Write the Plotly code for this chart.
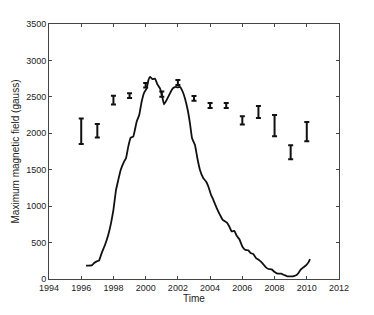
import plotly.graph_objects as go

# Error-bar series (yearly maximum magnetic field)
bar_years = [1996, 1997, 1998, 1999, 2000, 2001, 2002, 2003, 2004, 2005, 2006, 2007, 2008, 2009, 2010]
bar_values = [2028, 2035, 2456, 2516, 2660, 2537, 2696, 2479, 2381, 2381, 2176, 2292, 2105, 1740, 2023]
bar_errors = [174, 94, 60, 32, 30, 35, 34, 32, 34, 34, 57, 82, 146, 96, 133]

# Smoothed curve
curve_t = [1996.3, 1996.65, 1996.8, 1996.96, 1997.1, 1997.27, 1997.48, 1997.68, 1997.85, 1998.0,
           1998.16, 1998.3, 1998.45, 1998.66, 1998.78, 1998.92, 1999.07, 1999.23, 1999.44, 1999.6,
           1999.75, 1999.9, 2000.06, 2000.17, 2000.27, 2000.43, 2000.58, 2000.72, 2000.89, 2001.03,
           2001.14, 2001.3, 2001.51, 2001.68, 2001.86, 2001.99, 2002.13, 2002.3, 2002.44, 2002.61,
           2002.75, 2002.88, 2003.06, 2003.21, 2003.37, 2003.58, 2003.75, 2003.89, 2004.06, 2004.2,
           2004.41, 2004.61, 2004.78, 2005.03, 2005.19, 2005.34, 2005.5, 2005.65, 2005.81, 2006.0,
           2006.17, 2006.37, 2006.52, 2006.68, 2006.85, 2007.06, 2007.24, 2007.45, 2007.62, 2007.82,
           2008.03, 2008.19, 2008.4, 2008.59, 2008.79, 2009.0, 2009.2, 2009.37, 2009.48, 2009.62,
           2009.79, 2009.95, 2010.1, 2010.2]
curve_v = [183, 187, 219, 242, 251, 356, 470, 607, 767, 949,
           1223, 1360, 1497, 1611, 1657, 1817, 1940, 1953, 2159, 2250,
           2433, 2556, 2615, 2729, 2775, 2743, 2752, 2675, 2615, 2501,
           2396, 2455, 2547, 2615, 2638, 2629, 2638, 2570, 2478, 2319,
           2136, 1931, 1839, 1657, 1497, 1383, 1337, 1269, 1155, 1086,
           972, 881, 812, 776, 721, 653, 662, 593, 548, 447,
           402, 393, 356, 342, 288, 256, 219, 164, 137, 132,
           91, 73, 73, 55, 37, 37, 41, 55, 82, 128,
           160, 187, 228, 274]

x_ticks = [1994, 1996, 1998, 2000, 2002, 2004, 2006, 2008, 2010, 2012]
y_ticks = [0, 500, 1000, 1500, 2000, 2500, 3000, 3500]

FONT = "Liberation Sans, Arial, sans-serif"

fig = go.Figure()
fig.add_trace(go.Scatter(
    x=bar_years, y=bar_values, mode="markers",
    marker=dict(size=0.1, color="black", opacity=0),
    error_y=dict(type="data", array=bar_errors, visible=True,
                 color="#111", thickness=2, width=2.5),
    showlegend=False, hoverinfo="skip",
))
fig.add_trace(go.Scatter(
    x=curve_t, y=curve_v, mode="lines",
    line=dict(color="#111", width=1.8, shape="spline", smoothing=0.3),
    showlegend=False, hoverinfo="skip",
))

axis_common = dict(
    showgrid=False, zeroline=False, showline=True, linecolor="#444", linewidth=1,
    mirror="ticks", ticks="inside", ticklen=3, tickcolor="#444", automargin=False,
    tickfont=dict(family=FONT, size=9, color="#222"),
)
fig.update_xaxes(range=[1994, 2012], tickvals=x_ticks,
                 title=dict(text="Time", standoff=0,
                            font=dict(family=FONT, size=10, color="#222")),
                 **axis_common)
fig.update_yaxes(range=[0, 3500], tickvals=y_ticks,
                 title=dict(text="Maximum magnetic field (gauss)", standoff=4,
                            font=dict(family=FONT, size=10, color="#222")),
                 **axis_common)
fig.update_layout(
    width=374, height=315,
    margin=dict(l=49, r=35, t=24, b=36),
    paper_bgcolor="white", plot_bgcolor="white",
    hovermode=False,
)
fig.write_html("out.html", config={"displayModeBar": False},
               post_script="document.body.style.margin='0';")
